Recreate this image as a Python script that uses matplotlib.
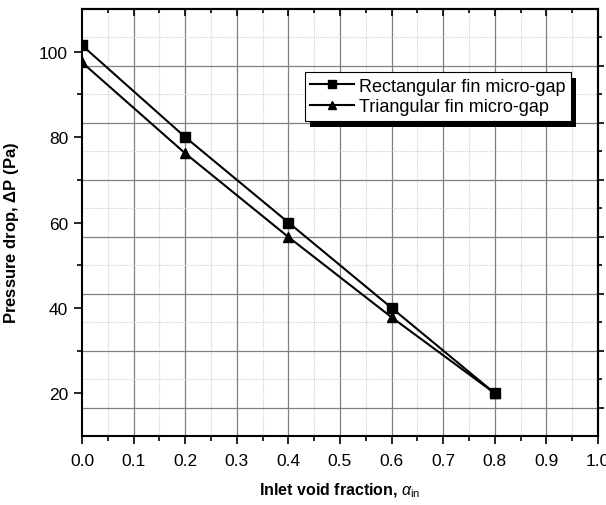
import numpy as np
import matplotlib
matplotlib.use("Agg")
import matplotlib.pyplot as plt
from matplotlib.patches import Rectangle
from matplotlib.ticker import MultipleLocator, FixedLocator, NullFormatter

plt.rcParams['font.family'] = ['Liberation Sans', 'DejaVu Sans']
plt.rcParams['mathtext.fontset'] = 'custom'
plt.rcParams['mathtext.rm'] = 'Liberation Sans'
plt.rcParams['mathtext.it'] = 'Liberation Sans:italic'
plt.rcParams['mathtext.bf'] = 'Liberation Sans:bold'

# data
void_fraction = [0.0, 0.2, 0.4, 0.6, 0.8]
rect_dp = [101.5, 80.0, 60.0, 40.0, 20.0]
tri_dp = [97.5, 76.2, 56.6, 37.8, 20.0]
series_labels = ["Rectangular fin micro-gap", "Triangular fin micro-gap"]
x_ticks = [0.0, 0.1, 0.2, 0.3, 0.4, 0.5, 0.6, 0.7, 0.8, 0.9, 1.0]
y_ticks = [20, 40, 60, 80, 100]

fig = plt.figure(figsize=(6.06, 5.06), dpi=100)
ax = fig.add_axes([0.1353, 0.1364, 0.8515, 0.8438])
ax.set_xlim(0, 1.0)
ax.set_ylim(10, 110)

# grid (vertical aligned with x ticks, horizontal on independent right scale)
for xv in np.arange(0.1, 1.0, 0.1):
    ax.axvline(xv, color='#808080', lw=0.9, zorder=0)
for xv in np.arange(0.05, 1.0, 0.1):
    ax.axvline(xv, color='#d0d0d0', lw=0.8, ls=(0, (1, 1)), zorder=0)
grid_major = np.arange(50 / 3, 110, 40 / 3)
grid_minor = np.arange(70 / 3, 110, 40 / 3)
for yv in grid_major:
    ax.axhline(yv, color='#808080', lw=0.9, zorder=0)
for yv in grid_minor:
    ax.axhline(yv, color='#d0d0d0', lw=0.8, ls=(0, (1, 1)), zorder=0)

l1, = ax.plot(void_fraction, rect_dp, color='black', lw=1.5, marker='s', ms=6.5,
              label=series_labels[0], zorder=3)
l2, = ax.plot(void_fraction, tri_dp, color='black', lw=1.5, marker='^', ms=7.5,
              label=series_labels[1], zorder=3)

ax.set_xticks(x_ticks)
ax.set_xticklabels([f"{v:.1f}" for v in x_ticks])
ax.xaxis.set_minor_locator(MultipleLocator(0.05))
ax.set_yticks(y_ticks)
ax.yaxis.set_minor_locator(FixedLocator([30, 50, 70, 90]))
ax.tick_params(axis='both', which='major', direction='out', length=6, width=1.2,
               labelsize=12.5, colors='black', pad=4)
ax.tick_params(axis='x', which='major', pad=6)
ax.tick_params(axis='both', which='minor', direction='out', length=3.5, width=1.2)
for s in ax.spines.values():
    s.set_linewidth(1.5)

# top ticks (inward)
top = ax.secondary_xaxis('top')
top.set_xticks(x_ticks)
top.xaxis.set_minor_locator(MultipleLocator(0.05))
top.xaxis.set_major_formatter(NullFormatter())
top.tick_params(which='major', direction='in', length=5, width=1.2)
top.tick_params(which='minor', direction='in', length=3, width=1.2)
top.spines['top'].set_linewidth(1.5)

# right ticks (outward) on grid positions
right = ax.secondary_yaxis('right')
right.set_yticks(list(grid_major))
right.yaxis.set_minor_locator(FixedLocator(list(grid_minor)))
right.yaxis.set_major_formatter(NullFormatter())
right.yaxis.set_minor_formatter(NullFormatter())
right.tick_params(which='major', direction='out', length=4, width=1.2)
right.tick_params(which='minor', direction='out', length=3, width=1.2)
right.spines['right'].set_linewidth(1.5)

ax.set_xlabel(r'Inlet void fraction, $\alpha_{\rm in}$', fontsize=11.5,
              fontweight='bold')
ax.xaxis.set_label_coords(0.5, -0.105)
ax.set_ylabel(r'Pressure drop, $\mathbf{\Delta}$P (Pa)', fontsize=12,
              fontweight='bold')
ax.yaxis.set_label_coords(-0.118, 0.477)

leg = ax.legend(handles=[l1, l2], loc='upper left', bbox_to_anchor=(0.432, 0.852),
                fontsize=13, frameon=True, fancybox=False, framealpha=1,
                edgecolor='black', handlelength=2.4, handletextpad=0.3,
                borderpad=0.3, labelspacing=0.2, borderaxespad=0, markerscale=0.8)
leg.get_frame().set_linewidth(0.8)
leg.set_zorder(5)

fig.canvas.draw()
bb = leg.get_window_extent().transformed(fig.transFigure.inverted())
off_x, off_y = 5 / 606, -6 / 506
shadow = Rectangle((bb.x0 + off_x, bb.y0 + off_y), bb.width, bb.height,
                   transform=fig.transFigure, facecolor='black', edgecolor='none',
                   zorder=4)
ax.add_artist(shadow)
shadow.set_clip_on(False)

fig.savefig('out.png', dpi=100)
